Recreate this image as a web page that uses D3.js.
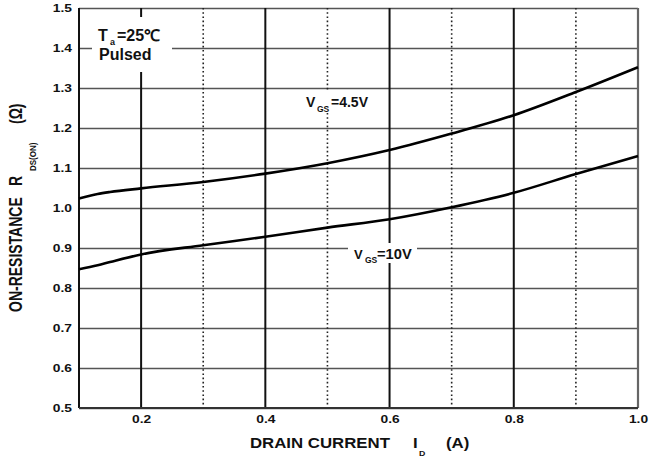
<!DOCTYPE html>
<html>
<head>
<meta charset="utf-8">
<script src="https://cdn.jsdelivr.net/npm/d3@7"></script>
<style>
  body { margin: 0; background: #fff; }
  text { font-family: "Liberation Sans", Arial, sans-serif; fill: #111; }
</style>
</head>
<body>
<div class="chart"></div>
<script>
// drain current (A) and on-resistance (ohm)
var currentA = [0.1, 0.13, 0.15, 0.2, 0.3, 0.4, 0.5, 0.6, 0.7, 0.8, 0.9, 1.0];
var rVgs45 = [1.024, 1.035, 1.040, 1.049, 1.065, 1.086, 1.112, 1.145, 1.186, 1.232, 1.290, 1.352];
var rVgs10 = [0.847, 0.857, 0.865, 0.884, 0.907, 0.928, 0.951, 0.972, 1.002, 1.038, 1.085, 1.130];

var xSolid = [0.2, 0.4, 0.6, 0.8];
var xDotted = [0.3, 0.5, 0.7, 0.9];
var xLabels = [0.2, 0.4, 0.6, 0.8, 1.0];
var yTicks = [0.5, 0.6, 0.7, 0.8, 0.9, 1.0, 1.1, 1.2, 1.3, 1.4, 1.5];

var svgWidth = 649;
var svgHeight = 461;
var margin = { top: 8, right: 11, bottom: 53, left: 79 };
var width = svgWidth - margin.left - margin.right;
var height = svgHeight - margin.top - margin.bottom;

var svg = d3.select(".chart")
    .append("svg")
    .attr("width", svgWidth)
    .attr("height", svgHeight);

var chartGroup = svg.append("g")
    .attr("transform", `translate(${margin.left}, ${margin.top})`);

var x = d3.scaleLinear().domain([0.1, 1.0]).range([0, width]);
var y = d3.scaleLinear().domain([0.5, 1.5]).range([height, 0]);

// horizontal grid + y labels
var leftAxis = d3.axisLeft(y)
    .tickValues(yTicks)
    .tickSize(-width)
    .tickPadding(7)
    .tickFormat(d3.format(".1f"));

var yg = chartGroup.append("g").call(leftAxis);
yg.select(".domain").remove();
yg.selectAll("line").attr("stroke", "#555").attr("stroke-width", 1.6);
yg.selectAll("text")
    .attr("font-size", 11.5)
    .attr("font-weight", "bold")
    .attr("fill", "#111")
    .attr("x", -7 / 1.2)
    .attr("transform", "scale(1.2,1)");

// dotted verticals
chartGroup.append("g").selectAll("line")
    .data(xDotted)
    .enter()
    .append("line")
    .attr("x1", d => x(d)).attr("x2", d => x(d))
    .attr("y1", 0).attr("y2", height)
    .attr("stroke", "#222")
    .attr("stroke-width", 1.6)
    .attr("stroke-dasharray", "1.6,2.6");

// solid verticals
chartGroup.append("g").selectAll("line")
    .data(xSolid)
    .enter()
    .append("line")
    .attr("x1", d => x(d)).attr("x2", d => x(d))
    .attr("y1", 0).attr("y2", height)
    .attr("stroke", "#111")
    .attr("stroke-width", 2);

// frame: left axis, right border, bottom axis
chartGroup.append("line")
    .attr("x1", x(0.1)).attr("x2", x(0.1)).attr("y1", 0).attr("y2", height)
    .attr("stroke", "#111").attr("stroke-width", 2);
chartGroup.append("line")
    .attr("x1", x(1.0)).attr("x2", x(1.0)).attr("y1", 0).attr("y2", height)
    .attr("stroke", "#666").attr("stroke-width", 2.2);
chartGroup.append("line")
    .attr("x1", 0).attr("x2", width).attr("y1", y(0.5)).attr("y2", y(0.5))
    .attr("stroke", "#333").attr("stroke-width", 2.2);

// x labels
var bottomAxis = d3.axisBottom(x)
    .tickValues(xLabels)
    .tickSize(0)
    .tickPadding(7)
    .tickFormat(d3.format(".1f"));

var xg = chartGroup.append("g")
    .attr("transform", `translate(0, ${height})`)
    .call(bottomAxis);
xg.select(".domain").remove();
xg.selectAll("text")
    .attr("font-size", 11.5)
    .attr("font-weight", "bold")
    .attr("fill", "#111")
    .attr("transform", "scale(1.2,1)");

// curves
var line = d3.line()
    .x(d => x(d[0]))
    .y(d => y(d[1]))
    .curve(d3.curveMonotoneX);

[rVgs45, rVgs10].forEach(function(series) {
    chartGroup.append("path")
        .datum(currentA.map((c, i) => [c, series[i]]))
        .attr("d", line)
        .attr("fill", "none")
        .attr("stroke", "#000")
        .attr("stroke-width", 2.6);
});

// label backgrounds that knock out the grid
function knockout(x0, y0, w, h) {
    svg.append("rect")
        .attr("x", x0).attr("y", y0)
        .attr("width", w).attr("height", h)
        .attr("fill", "#fff");
}
knockout(92, 17, 80, 55);
knockout(300, 90, 86, 23);
knockout(348, 243, 69, 20);

function label(px, py, str, size, sx) {
    return svg.append("text")
        .attr("transform", `translate(${px}, ${py}) scale(${sx || 1},1)`)
        .attr("font-size", size)
        .attr("font-weight", "bold")
        .text(str);
}

// condition box
label(98, 41, "T", 16);
label(110, 45, "a", 9);
label(117, 41, "=25\u2103", 16);
label(99, 60, "Pulsed", 16);

// series labels
label(306, 107, "V", 14);
label(317, 112, "GS", 8.5);
label(331, 107, "=4.5V", 14);

label(354, 259, "V", 13);
label(365, 263, "GS", 8.5);
label(377, 259, "=10V", 14, 1.05);

// x title
label(250, 448, "DRAIN CURRENT", 14, 1.2);
label(413, 448, "I", 14, 1.2);
label(419, 456, "D", 8, 1.1);
label(446, 448, "(A)", 14, 1.2);

// y title
svg.append("text")
    .attr("transform", "translate(21.5, 312) rotate(-90) scale(1,1.25)")
    .attr("font-size", 14).attr("font-weight", "bold")
    .text("ON-RESISTANCE");
svg.append("text")
    .attr("transform", "translate(21.5, 186) rotate(-90) scale(1,1.25)")
    .attr("font-size", 14).attr("font-weight", "bold")
    .text("R");
svg.append("text")
    .attr("transform", "translate(36, 171) rotate(-90) scale(1,1.2)")
    .attr("font-size", 8).attr("font-weight", "bold")
    .text("DS(ON)");
svg.append("text")
    .attr("transform", "translate(21.5, 124) rotate(-90) scale(1,1.25)")
    .attr("font-size", 14).attr("font-weight", "bold")
    .text("(\u03A9)");
</script>
</body>
</html>
